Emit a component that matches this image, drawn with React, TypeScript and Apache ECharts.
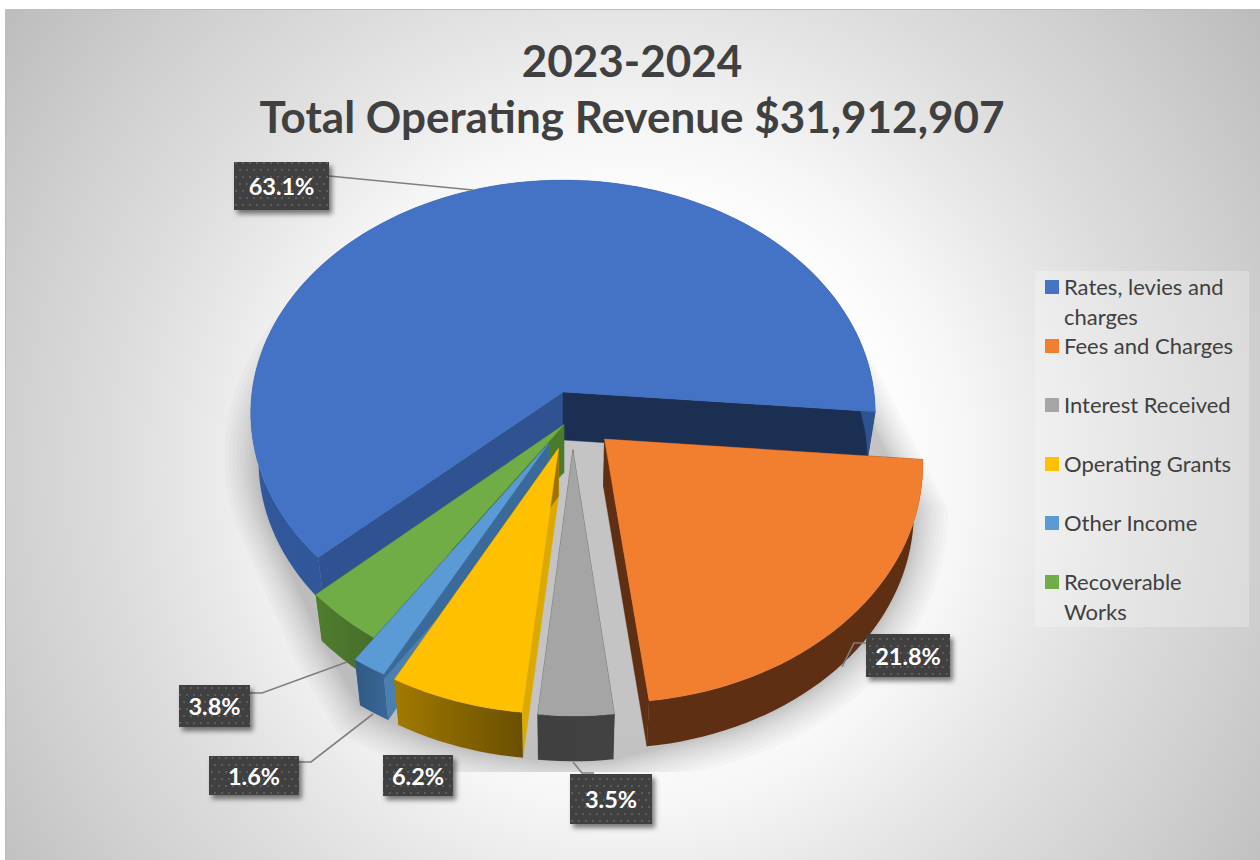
import React, { useEffect, useRef } from "react";
import * as echarts from "echarts";

// ---- data -------------------------------------------------------------
const categories = [
  "Rates, levies and charges",
  "Fees and Charges",
  "Interest Received",
  "Operating Grants",
  "Other Income",
  "Recoverable Works",
];
const values = [63.1, 21.8, 3.5, 6.2, 1.6, 3.8];
const titleLines = ["2023-2024", "Total Operating Revenue $31,912,907"];
const legendLines: Record<string, string> = {
  "Rates, levies and charges": "Rates, levies and\ncharges",
  "Fees and Charges": "Fees and Charges\n ",
  "Interest Received": "Interest Received\n ",
  "Operating Grants": "Operating Grants\n ",
  "Other Income": "Other Income\n ",
  "Recoverable Works": "Recoverable\nWorks",
};

// ---- layout and style --------------------------------------------------
const FONT = "Lato";
const CX = 563, CY = 392, A = 311, B = 231, Q = 0.09;
const START_ANGLE = 137.7;
const explodeX = [0, 0.131, 0.031, -0.014, -0.046, 0.003];
const explodeY = [0, 0.2, 0.245, 0.238, 0.22, 0.14];
const sliceZ = [2, 7, 6, 5, 4, 3];
const topColors = ["#4472c4", "#f27e30", "#a5a5a5", "#ffc000", "#5b9bd5", "#70ad47"];
const startEdgeColors = ["#2f5290", "#5e2f13", "#404040", "#dca900", "#4a7fae", "#5d8f39"];
const endEdgeColors = ["#1b2f52", "#5e2f13", "#404040", "#9a7300", "#3a6a9a", "#4a7a2c"];
const wallFrom = ["#31589b", "#5e2f13", "#404040", "#a17a00", "#2f5a85", "#4f7d2e"];
const wallTo = ["#2e5391", "#5e2f13", "#424242", "#6a4f00", "#3a6796", "#466d29"];
const labelBoxes = [
  [234, 162, 95, 48],
  [866, 634, 84, 43],
  [570, 774, 82, 50],
  [383, 755, 70, 41],
  [209, 756, 90, 39],
  [179, 685, 71, 42],
];
const leaders: number[][][] = [
  [[329, 176], [473, 190]],
  [[866, 643], [854, 643], [842, 667]],
  [[594, 773], [582, 773], [573, 762]],
  [],
  [[299, 762], [311, 762], [373, 714]],
  [[250, 693], [262, 693], [347, 662]],
];
const SHADOW_LAYERS = 12;
const SHADOW_SPREAD = 34;

// ---- geometry ----------------------------------------------------------
type P = [number, number];
const rad = (d: number) => (d * Math.PI) / 180;
const project = (u: number, v: number): P => {
  const d = 1 - Q * v;
  return [CX + (A * u) / d, CY + (B * v) / d];
};
const lower = (p: P): P => [CX + (p[0] - CX) * 0.975, p[1] + 48 - (p[1] - CY) * 0.008];
const total = values.reduce((a, b) => a + b, 0);
const startAngles: number[] = [];
values.reduce((acc, v, i) => {
  startAngles[i] = acc;
  return acc + (v / total) * 360;
}, START_ANGLE);

function sliceGeometry(i: number, value: number) {
  const t0 = startAngles[i];
  const t1 = t0 + (value / total) * 360;
  const n = Math.max(4, Math.ceil((t1 - t0) / 2));
  const arc: P[] = [];
  for (let k = 0; k <= n; k++) {
    const t = rad(t0 + ((t1 - t0) * k) / n);
    arc.push(project(Math.cos(t) + explodeX[i], Math.sin(t) + explodeY[i]));
  }
  const apex = project(explodeX[i], explodeY[i]);
  return { apex, arc };
}

function convexHull(points: P[]): P[] {
  const pts = points.slice().sort((a, b) => a[0] - b[0] || a[1] - b[1]);
  const cross = (o: P, a: P, b: P) => (a[0] - o[0]) * (b[1] - o[1]) - (a[1] - o[1]) * (b[0] - o[0]);
  const lo: P[] = [];
  for (const p of pts) {
    while (lo.length >= 2 && cross(lo[lo.length - 2], lo[lo.length - 1], p) <= 0) lo.pop();
    lo.push(p);
  }
  const up: P[] = [];
  for (let i = pts.length - 1; i >= 0; i--) {
    const p = pts[i];
    while (up.length >= 2 && cross(up[up.length - 2], up[up.length - 1], p) <= 0) up.pop();
    up.push(p);
  }
  return lo.slice(0, -1).concat(up.slice(0, -1));
}

const bgGradient = () =>
  new echarts.graphic.RadialGradient(
    630,
    470,
    770,
    [
      { offset: 0, color: "#ffffff" },
      { offset: 0.32, color: "#ffffff" },
      { offset: 0.44, color: "#f6f6f6" },
      { offset: 0.56, color: "#e8e8e8" },
      { offset: 0.675, color: "#dcdcdc" },
      { offset: 0.81, color: "#d0d0d0" },
      { offset: 1, color: "#bdbdbd" },
    ],
    true
  );

function dotPattern() {
  const c = document.createElement("canvas");
  c.width = 14;
  c.height = 14;
  const g = c.getContext("2d")!;
  g.fillStyle = "rgba(255,255,255,0.15)";
  [[1, 1], [8, 1], [4, 8], [11, 8]].forEach(([x, y]) => g.fillRect(x, y, 2, 2));
  return { image: c, repeat: "repeat" };
}

export default function App() {
  const ref = useRef<HTMLDivElement>(null);
  useEffect(() => {
    document.body.style.margin = "0";
    const chart = echarts.init(ref.current!, undefined, { renderer: "svg" });
    const pattern = dotPattern();

    const sliceSeries = categories.map((name, i) => ({
      type: "custom",
      name,
      coordinateSystem: "none",
      z: 2 + sliceZ[i],
      silent: true,
      itemStyle: { color: topColors[i] },
      data: [values[i]],
      renderItem: (_p: any, api: any) => {
        const { apex, arc } = sliceGeometry(i, api.value(0));
        const first = arc[0];
        const last = arc[arc.length - 1];
        const poly = (points: P[], fill: any) => ({
          type: "polygon",
          shape: { points },
          style: { fill, stroke: typeof fill === "string" ? fill : undefined, lineWidth: 0.4 },
        });
        const wall = arc.concat(arc.slice().reverse().map(lower));
        return {
          type: "group",
          children: [
            poly([apex, first, lower(first), lower(apex)], startEdgeColors[i]),
            poly([apex, last, lower(last), lower(apex)], endEdgeColors[i]),
            poly(
              wall,
              new echarts.graphic.LinearGradient(0, 0, 1, 0, [
                { offset: 0, color: wallFrom[i] },
                { offset: 1, color: wallTo[i] },
              ])
            ),
            poly([apex, ...arc], topColors[i]),
          ],
        };
      },
    }));

    const shadowSeries = {
      type: "custom",
      name: "shadow",
      coordinateSystem: "none",
      z: 1,
      silent: true,
      data: [0],
      renderItem: () => {
        const pts: P[] = [];
        values.forEach((v, i) => {
          const { apex, arc } = sliceGeometry(i, v);
          [apex, ...arc].forEach((p) => pts.push(lower(p)));
        });
        const hull = convexHull(pts);
        const xs = hull.map((p) => p[0]);
        const ys = hull.map((p) => p[1]);
        const mx = (Math.min(...xs) + Math.max(...xs)) / 2;
        const my = (Math.min(...ys) + Math.max(...ys)) / 2;
        const hw = (Math.max(...xs) - Math.min(...xs)) / 2;
        const hh = (Math.max(...ys) - Math.min(...ys)) / 2;
        const children: any[] = [];
        for (let k = 0; k < SHADOW_LAYERS; k++) {
          const d = SHADOW_SPREAD * Math.pow(1 - k / SHADOW_LAYERS, 1.5);
          children.push({
            type: "polygon",
            z2: 1 + k,
            shape: {
              points: hull.map((p) => [mx + (p[0] - mx) * (1 + d / hw), my + (p[1] - my) * (1 + d / hh)]),
            },
            style: { fill: "rgba(0,0,0,0.02)" },
          });
        }
        children.push({
          type: "rect",
          z2: 100,
          shape: { x: 6, y: 772, width: 1253, height: 87 },
          style: { fill: bgGradient() },
        });
        return { type: "group", children };
      },
    };

    const labelSeries = {
      type: "custom",
      name: "labels",
      coordinateSystem: "none",
      z: 20,
      silent: true,
      data: values,
      renderItem: (p: any, api: any) => {
        const i = p.dataIndex;
        const [x, y, w, h] = labelBoxes[i];
        const children: any[] = [];
        if (leaders[i].length) {
          children.push({
            type: "polyline",
            shape: { points: leaders[i] },
            style: { fill: "none", stroke: "#7f7f7f", lineWidth: 1.6 },
          });
        }
        children.push(
          {
            type: "rect",
            shape: { x, y, width: w, height: h },
            style: {
              fill: "#404040",
              shadowColor: "rgba(0,0,0,0.5)",
              shadowBlur: 5,
              shadowOffsetX: 3,
              shadowOffsetY: 4,
            },
          },
          { type: "rect", shape: { x, y, width: w, height: h }, style: { fill: pattern } },
          {
            type: "text",
            x: x + w / 2,
            y: y + h / 2,
            style: {
              text: `${api.value(0).toFixed(1)}%`,
              fill: "#ffffff",
              font: `bold 23.5px ${FONT}`,
              align: "center",
              verticalAlign: "middle",
            },
          }
        );
        return { type: "group", children };
      },
    };

    chart.setOption({
      animation: false,
      backgroundColor: "#ffffff",
      tooltip: { show: false },
      title: {
        text: titleLines.join("\n"),
        left: 627,
        top: 27,
        textAlign: "center",
        textStyle: { fontFamily: FONT, fontWeight: "bold", fontSize: 44, lineHeight: 56, color: "#404040" },
      },
      legend: {
        data: categories,
        orient: "vertical",
        left: 1035,
        top: 271,
        padding: [1, 16, 1, 10],
        itemGap: 0,
        itemWidth: 14,
        itemHeight: 59,
        icon: "path://M0 8L14 8L14 22L0 22ZM0 0L0 0M0 59L0 59",
        selectedMode: false,
        backgroundColor: "rgba(255,255,255,0.25)",
        formatter: (name: string) => legendLines[name],
        textStyle: { fontFamily: FONT, fontSize: 22, lineHeight: 29.5, color: "#404040" },
      },
      graphic: [
        {
          type: "rect",
          z: 0,
          silent: true,
          shape: { x: 5.5, y: 9.5, width: 1255, height: 851 },
          style: { fill: bgGradient(), stroke: "#bdbdbd", lineWidth: 1 },
        },
      ],
      series: [shadowSeries, ...sliceSeries, labelSeries],
    });
    return () => chart.dispose();
  }, []);
  return <div ref={ref} style={{ width: 1260, height: 860 }} />;
}
